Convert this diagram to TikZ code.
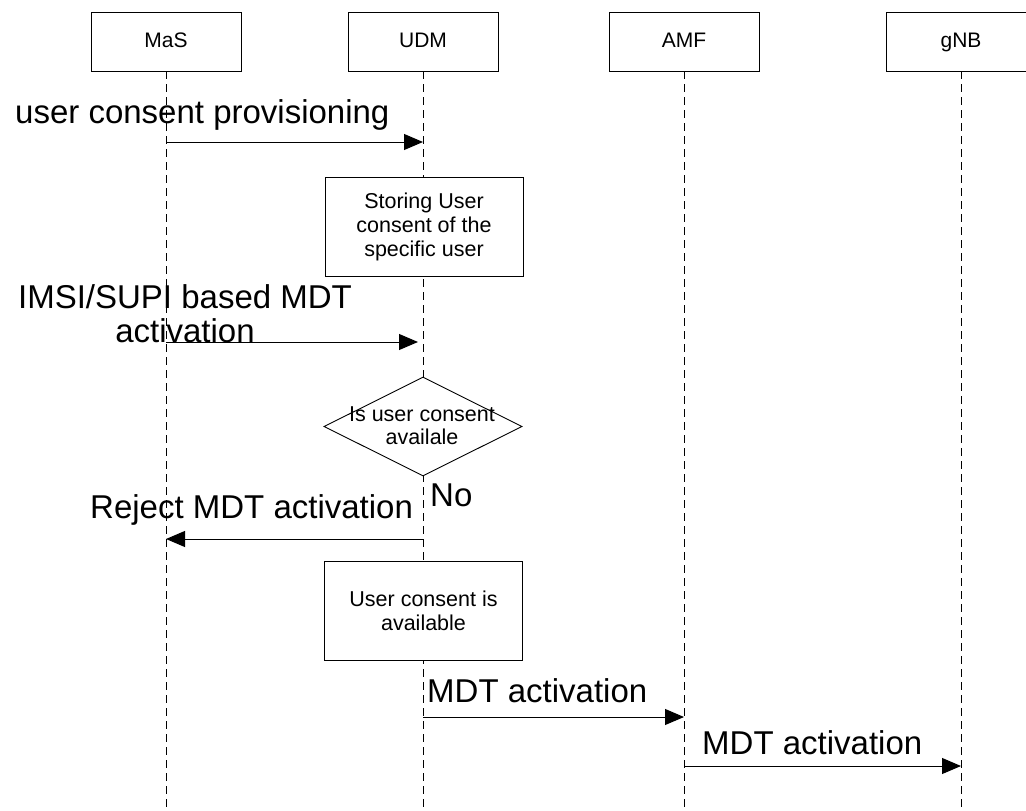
\documentclass[tikz,border=0pt]{standalone}
\usepackage{fontspec}
\setmainfont{Liberation Sans}
\usetikzlibrary{shapes.geometric,arrows.meta}
\begin{document}
\begin{tikzpicture}[x=1pt,y=-1pt,
  header/.style={draw, fill=white, line width=0.9pt, minimum width=150pt, minimum height=59pt, inner sep=0pt, text height=15pt, text depth=4pt, font=\fontsize{21}{24}\selectfont},
  actbox/.style={draw, fill=white, line width=0.9pt, minimum width=198pt, minimum height=99pt, inner sep=0pt, align=center, font=\fontsize{21.5}{24}\selectfont},
  decision/.style={draw, fill=white, diamond, line width=0.9pt, minimum width=198pt, minimum height=99pt, inner sep=0pt},
  lifeline/.style={dash pattern=on 8pt off 5pt, line width=0.8pt},
  msg/.style={line width=1pt, -{Triangle[length=19pt,width=16pt]}},
  biglabel/.style={font=\fontsize{33}{34}\selectfont, inner sep=0pt},
  smalltext/.style={font=\fontsize{21.5}{23}\selectfont, inner sep=0pt, align=center}
]
\useasboundingbox (0,0) rectangle (1026,811);
% headers
\node[header] (mas) at (166,41.5) {MaS};
\node[header] (udm) at (423,41.5) {UDM};
\node[header] (amf) at (684,41.5) {AMF};
\node[header] (gnb) at (961,41.5) {gNB};
% lifeline ends
\coordinate (masend) at (166,811);
\coordinate (udmend) at (423,811);
\coordinate (amfend) at (684,811);
\coordinate (gnbend) at (961,811);
\draw[lifeline] (mas.south) -- (masend);
\draw[lifeline] (udm.south) -- (udmend);
\draw[lifeline] (amf.south) -- (amfend);
\draw[lifeline] (gnb.south) -- (gnbend);
% message 1
\coordinate (m1s) at (166,142);
\coordinate (m1e) at (423,142);
\draw[msg] (m1s) -- (m1e);
\node[biglabel, anchor=base west] (l1) at (15,123) {user consent provisioning};
% storing box
\node[actbox] (store) at (424,227) {Storing User\\consent of the\\specific user};
% message 2
\coordinate (m2s) at (166,342);
\coordinate (m2e) at (418,342);
\draw[msg] (m2s) -- (m2e);
\node[biglabel, align=center, anchor=base] (l2) at (185,342) {IMSI/SUPI based MDT\\activation};
% decision
\node[decision] (dec) at (423,426.5) {};
\node[smalltext] (dect) at (422,426) {Is user consent\\availale};
\node[biglabel, anchor=base west] (no) at (430,506) {No};
% reject
\coordinate (m3s) at (423,539);
\coordinate (m3e) at (166,539);
\draw[msg] (m3s) -- (m3e);
\node[biglabel, anchor=base west] (l3) at (90,518) {Reject MDT activation};
% available box
\node[actbox] (avail) at (423.5,611) {User consent is\\available};
% message 4
\coordinate (m4s) at (423,717);
\coordinate (m4e) at (684,717);
\draw[msg] (m4s) -- (m4e);
\node[biglabel, anchor=base west] (l4) at (427,702) {MDT activation};
% message 5
\coordinate (m5s) at (684,766);
\coordinate (m5e) at (961,766);
\draw[msg] (m5s) -- (m5e);
\node[biglabel, anchor=base west] (l5) at (702,754) {MDT activation};
\end{tikzpicture}
\end{document}
